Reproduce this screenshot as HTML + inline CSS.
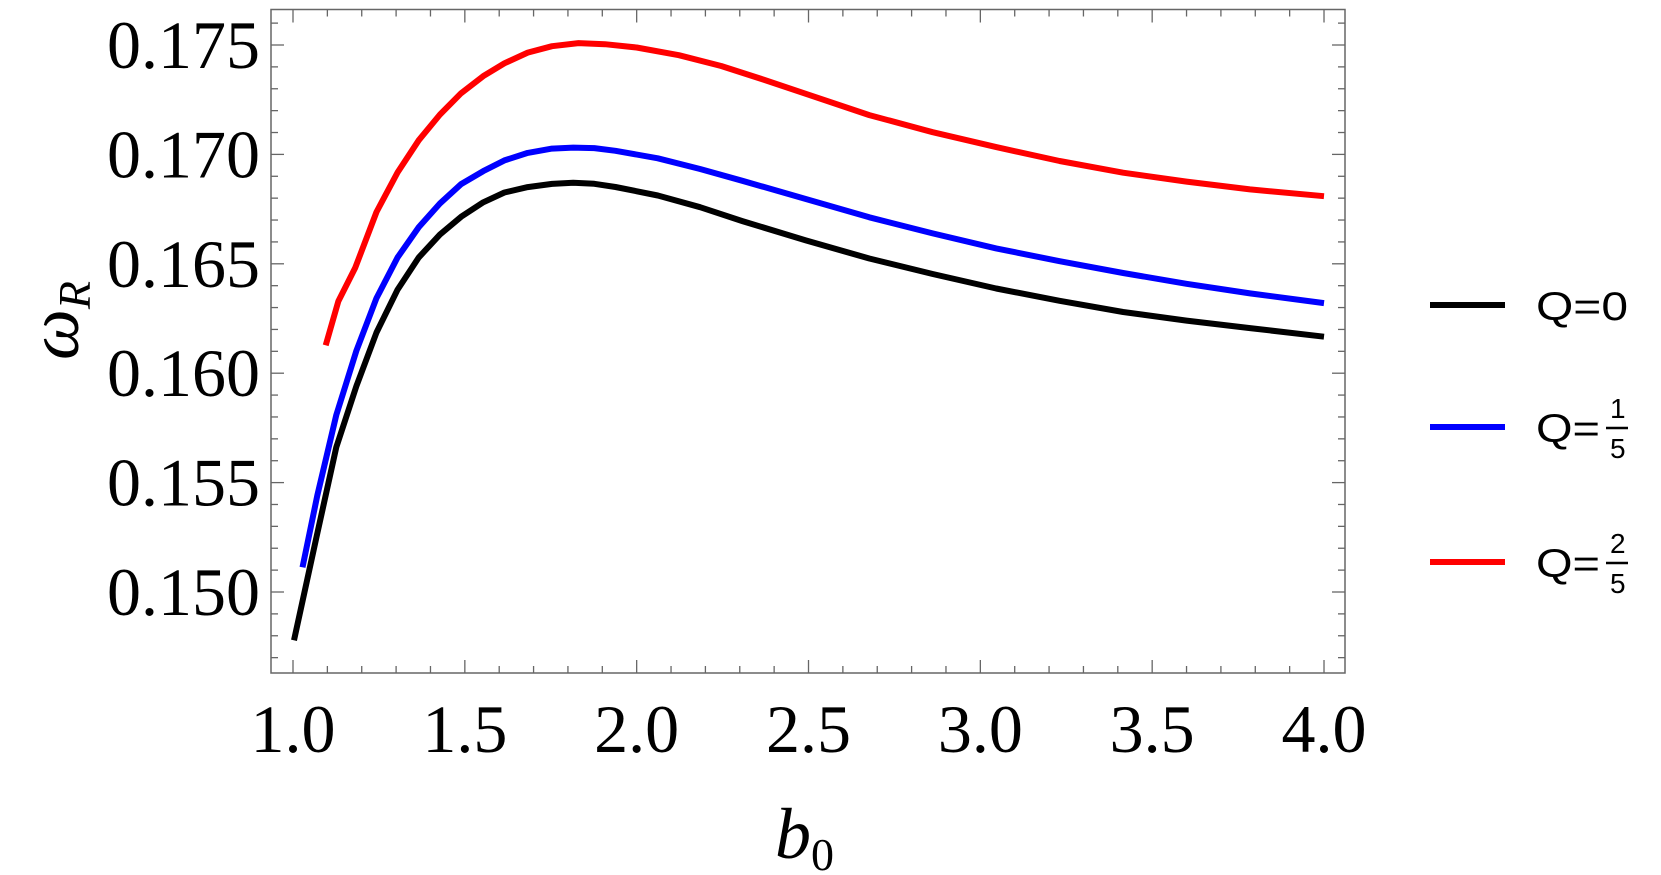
<!DOCTYPE html>
<html><head><meta charset="utf-8"><style>
html,body{margin:0;padding:0;background:#fff;}
svg{display:block;}
</style></head><body>
<svg id="s" width="1661" height="875" viewBox="0 0 1661 875" xmlns="http://www.w3.org/2000/svg">
<rect x="271" y="9.5" width="1074" height="663.5" fill="none" stroke="#666" stroke-width="1.5"/>
<g id="ticks" stroke="#666" stroke-width="1.3"></g>
<g id="lab" font-family="Liberation Serif, serif" font-size="68" fill="#000"></g>
<g fill="none" stroke-width="6" stroke-linejoin="round" stroke-linecap="butt">
<path id="pk" stroke="#000"/>
<path id="pb" stroke="#0000ff"/>
<path id="pr" stroke="#ff0000"/>
</g>
<text x="0" y="0" font-family="Liberation Serif, serif" font-style="italic" font-size="72" transform="translate(78 360) rotate(-90)">ω<tspan font-size="46" dy="12">R</tspan></text>
<text x="775" y="858" font-family="Liberation Serif, serif" font-style="italic" font-size="72">b<tspan font-style="normal" font-size="46" dy="12">0</tspan></text>
<g stroke-width="6">
<line x1="1430" y1="305" x2="1505" y2="305" stroke="#000"/>
<line x1="1430" y1="427" x2="1505" y2="427" stroke="#0000ff"/>
<line x1="1430" y1="562" x2="1505" y2="562" stroke="#ff0000"/>
</g>
<g font-family="Liberation Sans, sans-serif" font-size="40" fill="#000">
<text x="1536" y="320" textLength="92" lengthAdjust="spacingAndGlyphs">Q=0</text>
<text x="1536" y="442" textLength="64" lengthAdjust="spacingAndGlyphs">Q=</text>
<text x="1610" y="418" font-size="28">1</text>
<line x1="1606" y1="428" x2="1628" y2="428" stroke="#000" stroke-width="2.5"/>
<text x="1610" y="458" font-size="28">5</text>
<text x="1536" y="577" textLength="64" lengthAdjust="spacingAndGlyphs">Q=</text>
<text x="1610" y="553" font-size="28">2</text>
<line x1="1606" y1="563" x2="1628" y2="563" stroke="#000" stroke-width="2.5"/>
<text x="1610" y="593" font-size="28">5</text>
</g>
</svg>
<script>
var NS="http://www.w3.org/2000/svg";
function X(b){return 293+(b-1)*343.67;}
function Y(v){return 592-(v-0.15)/0.005*109.4;}
var t=document.getElementById('ticks'),lab=document.getElementById('lab');
function ln(x1,y1,x2,y2){var l=document.createElementNS(NS,'line');l.setAttribute('x1',x1);l.setAttribute('y1',y1);l.setAttribute('x2',x2);l.setAttribute('y2',y2);t.appendChild(l);}
function tx(x,y,s,a){var e=document.createElementNS(NS,'text');e.setAttribute('x',x);e.setAttribute('y',y);e.setAttribute('text-anchor',a);e.textContent=s;lab.appendChild(e);}
for(var i=-1;i<=31;i++){var b=1+i*0.1;var x=X(b);if(x<272||x>1344)continue;var L=(i%5==0)?13:7;
 ln(x,673,x,673-L);ln(x,9.5,x,9.5+L);}
for(var i=0;i<=6;i++){tx(X(1+i*0.5),752,(1+i*0.5).toFixed(1),'middle');}
for(var k=-3;k<=27;k++){var v=0.15+k*0.001;var y=Y(v);if(y<10||y>672)continue;var L=(k%5==0)?13:7;
 ln(271,y,271+L,y);ln(1345,y,1345-L,y);}
for(var k=0;k<=5;k++){var v=0.15+k*0.005;tx(260,Y(v)+23,v.toFixed(3),'end');}
function interp(tab,x){if(x<=tab[0][0])return tab[0][1];for(var i=1;i<tab.length;i++){if(x<=tab[i][0]){var a=tab[i-1],b=tab[i];return a[1]+(b[1]-a[1])*(x-a[0])/(b[0]-a[0]);}}return tab[tab.length-1][1];}
function mk(id,pts,sh){var d='';pts.forEach(function(p,i){var x=294+(p[0]-276)*1.0575;var y=592+(p[1]-560)*1.0725;y+=interp(sh,x);d+=(i?'L':'M')+x.toFixed(1)+' '+y.toFixed(1);});document.getElementById(id).setAttribute('d',d);}
mk('pk',[[276,605],[297,510],[316,425],[335,368],[354,318],[374,278],[394,248],[414,224],[434,206],[455,191],[475,181],[497,175],[520,172],[540,171],[560,171.5],[580,174],[620,181],[660,191],[700,203],[760,220],[820,236],[880,250],[940,263],[1000,274],[1060,284],[1120,292],[1180,299],[1250,307]],
 [[420,0],[440,3],[483,6],[528,8],[573,8],[615,9],[658,10],[742,12],[869,14],[996,15],[1123,16],[1324,16]]);
mk('pb',[[284,537],[298,470],[316,395],[335,335],[354,286],[374,248],[394,218],[414,194],[434,175],[455,162],[475,152],[497,145],[520,141],[540,140],[560,140.5],[580,143],[620,150],[660,160],[700,171],[760,188],[820,205],[880,220],[940,234],[1000,246],[1060,257],[1120,267],[1180,276],[1250,285]],
 [[400,0],[420,2],[440,4],[483,6],[1324,6]]);
mk('pr',[[306,330],[318,292],[334,265],[354,215],[374,178],[394,148],[414,124],[434,104],[455,88],[475,76],[497,66],[520,60],[545,57],[570,58],[600,61],[640,68],[680,78],[720,90],[760,102],[820,120],[880,135],[940,148],[1000,160],[1060,170],[1120,178],[1180,185],[1250,191]],
 [[326,0],[355,-8],[376,-10],[742,-9],[869,-5],[996,-3],[1123,-1],[1324,0]]);
</script>
</body></html>
